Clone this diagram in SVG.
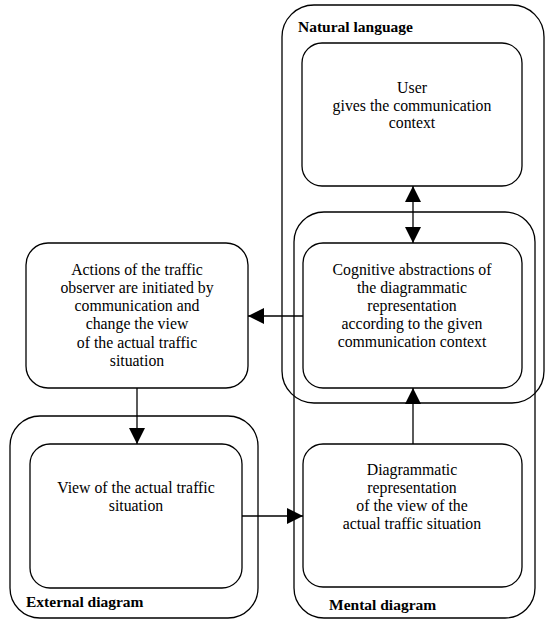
<svg xmlns="http://www.w3.org/2000/svg" width="545" height="621" viewBox="0 0 545 621">
<defs>
<style>
.box{fill:none;stroke:#000;stroke-width:1.3}
.t{font-family:"Liberation Serif","Times New Roman",serif;font-size:15.8px;fill:#000;text-anchor:middle}
.lbl{font-family:"Liberation Serif","Times New Roman",serif;font-size:15.5px;font-weight:bold;fill:#000}
.c{fill:none;stroke:#000;stroke-width:1.3}
</style>
<marker id="ah" markerUnits="userSpaceOnUse" markerWidth="16" markerHeight="16" refX="15" refY="7.5" orient="auto-start-reverse" viewBox="0 0 15 15">
<path d="M0,0 L15,7.5 L0,15 z" fill="#000"/>
</marker>
</defs>
<rect width="545" height="621" fill="#fff"/>
<g id="natural-language">
<rect class="box" x="282" y="5" width="262" height="398" rx="32" ry="32"/>
<text class="lbl" x="298" y="32">Natural language</text>
</g>
<g id="mental-diagram">
<rect class="box" x="294" y="212" width="241" height="406" rx="30" ry="30"/>
<text class="lbl" x="329" y="610">Mental diagram</text>
</g>
<g id="external-diagram">
<rect class="box" x="10" y="416" width="248" height="202" rx="30" ry="30"/>
<text class="lbl" x="26" y="607">External diagram</text>
</g>
<g id="user">
<rect class="box" x="302" y="43" width="220" height="143" rx="20" ry="20"/>
<text class="t" x="412" y="92.5">User</text>
<text class="t" x="412" y="110.5">gives the communication</text>
<text class="t" x="412" y="128.3">context</text>
</g>
<g id="cognitive">
<rect class="box" x="303" y="243" width="219" height="145" rx="20" ry="20"/>
<text class="t" x="412" y="275">Cognitive abstractions of</text>
<text class="t" x="412" y="293">the diagrammatic</text>
<text class="t" x="412" y="311">representation</text>
<text class="t" x="412" y="329">according to the given</text>
<text class="t" x="412" y="347">communication context</text>
</g>
<g id="actions">
<rect class="box" x="26" y="243" width="222" height="145" rx="22" ry="22"/>
<text class="t" x="137" y="275">Actions of the traffic</text>
<text class="t" x="137" y="293">observer are initiated by</text>
<text class="t" x="137" y="311">communication and</text>
<text class="t" x="137" y="329">change the view</text>
<text class="t" x="137" y="347.5">of the actual traffic</text>
<text class="t" x="137" y="365.5">situation</text>
</g>
<g id="view">
<rect class="box" x="30" y="444" width="212" height="144" rx="20" ry="20"/>
<text class="t" x="136" y="493">View of the actual traffic</text>
<text class="t" x="136" y="511">situation</text>
</g>
<g id="diagrammatic">
<rect class="box" x="303" y="444" width="219" height="143" rx="20" ry="20"/>
<text class="t" x="412" y="475">Diagrammatic</text>
<text class="t" x="412" y="493">representation</text>
<text class="t" x="412" y="511">of the view of the</text>
<text class="t" x="412" y="529.3">actual traffic situation</text>
</g>
<g id="connectors">
<line class="c" x1="413" y1="186" x2="413" y2="243" marker-start="url(#ah)" marker-end="url(#ah)"/>
<line class="c" x1="303" y1="316" x2="248" y2="316" marker-end="url(#ah)"/>
<line class="c" x1="137" y1="388" x2="137" y2="444" marker-end="url(#ah)"/>
<line class="c" x1="242" y1="516" x2="303" y2="516" marker-end="url(#ah)"/>
<line class="c" x1="413" y1="444" x2="413" y2="388" marker-end="url(#ah)"/>
</g>
</svg>
